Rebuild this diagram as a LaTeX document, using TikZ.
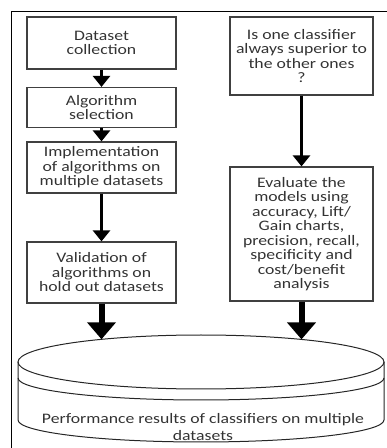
\documentclass[tikz,border=0pt]{standalone}
\usepackage{fontspec}
\setmainfont{Carlito}[FakeStretch=1.22]
\usetikzlibrary{arrows.meta}
\begin{document}
\begin{tikzpicture}[x=1pt,y=1pt,
  box/.style={draw=black!75, line width=1.2pt, inner sep=0pt, align=center,
    text=black!80, font=\fontsize{14.5}{14.5}\selectfont},
  lbox/.style={box, minimum width=149pt},
  rbox/.style={box, minimum width=143pt},
  sarrow/.style={line width=3.5pt, -{Triangle[width=17pt,length=11pt]}},
  barrow/.style={line width=6pt, -{Triangle[width=28pt,length=17pt]}},
  cyl/.style={line width=1pt, draw=black!85}]
\useasboundingbox (0,0) rectangle (387,448);
\draw[line width=1pt] (387,436) -- (11,436) -- (11,0);

\node[lbox, minimum height=52pt] (A) at (101.5,405) {Dataset\\collection};
\node[lbox, minimum height=40pt] (B) at (101.5,340.5) {Algorithm\\selection};
\node[lbox, minimum height=51pt] (C) at (101.5,280.5) {Implementation\\of algorithms on\\multiple datasets};
\node[lbox, minimum height=61pt] (D) at (101.5,175.5) {Validation of\\algorithms on\\hold out datasets};
\node[rbox, minimum height=78pt] (R) at (301.5,392) {Is one classifier\\always superior to\\the other ones\\?};
\node[rbox, minimum height=134pt] (E) at (301.5,214) {Evaluate the\\models using\\accuracy, Lift/\\Gain charts,\\precision, recall,\\specificity and\\cost/benefit\\analysis};

% cylinder
\draw[cyl] (201,86) ellipse [x radius=183, y radius=27];
\draw[cyl] (18,70) arc[start angle=180, end angle=360, x radius=183, y radius=22];
\draw[cyl] (18,86) -- (18,28) arc[start angle=180, end angle=360, x radius=183, y radius=22] -- (384,86);
\coordinate (cL) at (101.5,108.7);
\coordinate (cR) at (301.5,108.6);
\node[align=center, text=black!80, font=\fontsize{14.5}{17}\selectfont] (lbl) at (203,21)
  {Performance results of classifiers on multiple\\datasets};

\draw[sarrow] (A.south) -- (B.north);
\draw[sarrow] (B.south) -- (C.north);
\draw[sarrow] (C.south) -- (D.north);
\draw[sarrow] (R.south) -- (E.north);
\draw[barrow] (D.south) -- (cL);
\draw[barrow] (E.south) -- (cR);
\end{tikzpicture}
\end{document}
